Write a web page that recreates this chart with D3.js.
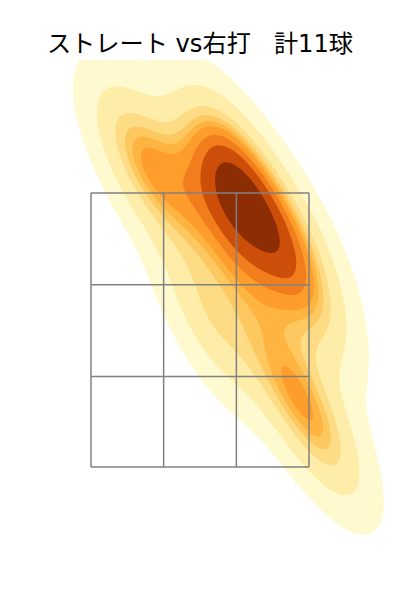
<!DOCTYPE html><html><head><meta charset="utf-8"><script src="https://cdn.jsdelivr.net/npm/d3@7"></script>
<style>html,body{margin:0;background:#fff}</style></head><body><svg id="c" width="400" height="600"></svg>
<script>
// Estimated pitch locations (plate x, height z), read from the density shape
const pitchX = [0.769, 0.312, -0.267, 0.282, 0.312, 0.708, -0.487, 0.145, 0.670, 0.921, 0.076];
const pitchZ = [2.763, 3.493, 3.661, 3.011, 3.690, 3.172, 3.726, 3.551, 2.113, 1.748, 2.573];
// Strike-zone grid lines
const zoneX = [-0.83, -0.277, 0.277, 0.83];
const zoneZ = [1.5, 2.16, 2.83, 3.5];
// Density levels of the filled bands
const densityLevels = [0.043, 0.1229, 0.2098, 0.2553, 0.2862, 0.3145, 0.3620, 0.4180, 0.4989];
const bandColors = ['#fff9cf','#feeda8','#fedc85','#fec860','#feb441','#fe9d2c','#f27d1c','#cc4e08','#8c2d04'];
const titleText = "ストレート vs右打   計11球";

const W = 400, H = 600, bwAdjust = 0.934;
const x = d3.scaleLinear().domain([-0.83, 0.83]).range([91, 309]);
const y = d3.scaleLinear().domain([1.5, 3.5]).range([467, 193]);

// Gaussian KDE with full covariance (Scott's rule)
function gaussianKde(xs, zs) {
  const n = xs.length, mx = d3.mean(xs), mz = d3.mean(zs);
  let a = 0, b = 0, c = 0;
  xs.forEach((v, i) => { const dx = v - mx, dz = zs[i] - mz; a += dx * dx; b += dx * dz; c += dz * dz; });
  const f = Math.pow(n, -1 / 3) / (n - 1) * bwAdjust * bwAdjust;
  a *= f; b *= f; c *= f;
  const det = a * c - b * b, A = c / det, B = -b / det, C = a / det, norm = 1 / (n * 2 * Math.PI * Math.sqrt(det));
  return (px, pz) => {
    let s = 0;
    for (let i = 0; i < n; i++) {
      const dx = px - xs[i], dz = pz - zs[i];
      s += Math.exp(-0.5 * (A * dx * dx + 2 * B * dx * dz + C * dz * dz));
    }
    return s * norm;
  };
}
const density = gaussianKde(pitchX, pitchZ);
const values = new Float64Array(W * H);
for (let j = 0; j < H; j++) for (let i = 0; i < W; i++) values[j * W + i] = density(x.invert(i + 0.5), y.invert(j + 0.5));

const svg = d3.select("#c");
svg.append("clipPath").attr("id", "plot").append("rect").attr("x", 0).attr("y", 60).attr("width", W).attr("height", H - 60);
svg.append("g").attr("clip-path", "url(#plot)").selectAll("path")
  .data(d3.contours().size([W, H]).thresholds(densityLevels)(values))
  .join("path").attr("d", d3.geoPath()).attr("fill", (d, i) => bandColors[i]);

const grid = svg.append("g").attr("stroke", "#808080").attr("stroke-width", 1.5).attr("fill", "none");
grid.selectAll("line.v").data(zoneX).join("line").attr("class", "v")
  .attr("x1", x).attr("x2", x).attr("y1", y(zoneZ[0])).attr("y2", y(zoneZ[3]));
grid.selectAll("line.h").data(zoneZ).join("line").attr("class", "h")
  .attr("y1", y).attr("y2", y).attr("x1", x(zoneX[0])).attr("x2", x(zoneX[3]));

svg.append("text").attr("x", 200).attr("y", 52).attr("text-anchor", "middle")
  .attr("font-family", "DejaVu Sans, Noto Sans CJK JP").attr("font-size", 24.2)
  .style("white-space", "pre").text(titleText);
</script></body></html>
